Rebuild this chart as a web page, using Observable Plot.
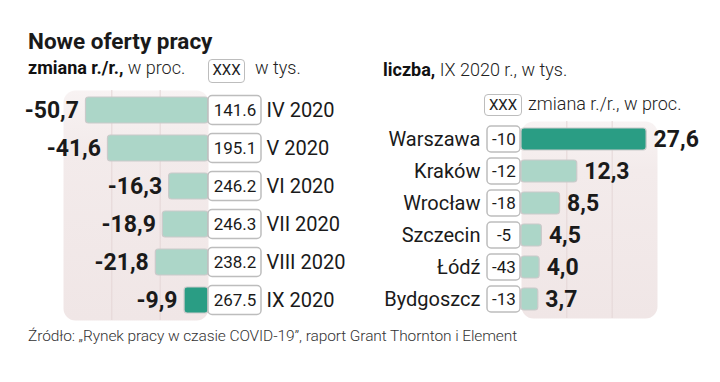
<!DOCTYPE html>
<html>
<head>
<meta charset="utf-8">
<script src="https://cdn.jsdelivr.net/npm/d3@7"></script>
<script src="https://cdn.jsdelivr.net/npm/@observablehq/plot@0.6"></script>
<style>
  body { margin: 0; background: #fff; }
  #wrap { position: relative; width: 720px; height: 382px; overflow: hidden; font-family: Roboto, "Noto Sans", sans-serif; color: #1a1a1a; }
  .abs { position: absolute; white-space: nowrap; line-height: 1; }
  .title { left: 28px; top: 30px; font-size: 22.5px; font-weight: 700; }
  .sub { font-size: 18px; font-weight: 300; color: #222; }
  .sub b { font-weight: 700; color: #111; }
  .box { border: 1.5px solid #bdbdbd; border-radius: 4px; font-size: 15px; text-align: center; box-sizing: border-box; background: #fff; line-height: 20px; color: #222; }
  .caption { left: 28px; top: 329px; font-size: 15.5px; font-weight: 300; color: #333; letter-spacing: -0.1px; }
  svg { position: absolute; overflow: visible; }
</style>
</head>
<body>
<div id="wrap">
  <div class="abs title">Nowe oferty pracy</div>
  <div class="abs sub" style="left:28px;top:59px;"><b>zmiana r./r.,</b> w proc.</div>
  <div class="abs box" style="left:208px;top:59px;width:37px;height:24px;">XXX</div>
  <div class="abs sub" style="left:255px;top:59px;">w tys.</div>
  <div class="abs sub" style="left:383px;top:61px;"><b>liczba,</b> IX 2020 r., w tys.</div>
  <div class="abs box" style="left:484px;top:94px;width:38px;height:22px;">XXX</div>
  <div class="abs sub" style="left:528px;top:95px;">zmiana r./r., w proc.</div>
  <div class="abs caption">Źródło: „Rynek pracy w czasie COVID-19”, raport Grant Thornton i Element</div>
</div>
<script>
// ---- data ----
const months = ["IV 2020", "V 2020", "VI 2020", "VII 2020", "VIII 2020", "IX 2020"];
const monthChange = [-50.7, -41.6, -16.3, -18.9, -21.8, -9.9];
const monthOffers = [141.6, 195.1, 246.2, 246.3, 238.2, 267.5];
const cities = ["Warszawa", "Kraków", "Wrocław", "Szczecin", "Łódź", "Bydgoszcz"];
const cityOffers = [27.6, 12.3, 8.5, 4.5, 4.0, 3.7];
const cityChange = [-10, -12, -18, -5, -43, -13];
const leftTicks = [-40, -20];
const rightTicks = [10, 20];

const DARK = "#2a9d84", LIGHT = "#acd6c8", GRID = "#e4d6d6";
const comma = v => v.toFixed(1).replace(".", ",");

const left = months.map((m, i) => ({m, change: monthChange[i], offers: monthOffers[i], hi: i === months.length - 1}));
const right = cities.map((c, i) => ({c, offers: cityOffers[i], change: cityChange[i], hi: i === 0}));

const wrap = document.getElementById("wrap");

function addGradient(svg, id) {
  const g = d3.select(svg).insert("defs", ":first-child")
    .append("linearGradient").attr("id", id)
    .attr("x1", 0).attr("y1", 0).attr("x2", 0).attr("y2", 1);
  g.append("stop").attr("offset", "0%").attr("stop-color", "#f8f3f3");
  g.append("stop").attr("offset", "25%").attr("stop-color", "#f3ebeb");
  g.append("stop").attr("offset", "100%").attr("stop-color", "#f0e6e6");
}

const p1 = Plot.plot({
  width: 370, height: 250,
  marginLeft: 63, marginRight: 162, marginTop: 10, marginBottom: 10,
  x: {domain: [-60, 0], axis: null},
  y: {domain: months, axis: null, paddingInner: 0.32, paddingOuter: 0.16},
  style: {fontFamily: "Roboto, sans-serif", overflow: "visible"},
  marks: [
    Plot.frame({fill: "url(#gradL)", stroke: null, rx: 12}),
    Plot.ruleX(leftTicks, {stroke: GRID, strokeWidth: 1}),
    Plot.barX(left, {x1: "change", x2: 0, y: "m", fill: d => d.hi ? DARK : LIGHT, stroke: "#cacaca", strokeWidth: 1.2, rx: 3}),
    Plot.text(left, {x: "change", y: "m", text: d => comma(d.change), textAnchor: "end", dx: -7, fontSize: 23, fontWeight: "bold", fill: "#1a1a1a"}),
    Plot.rect(left, {x1: 0, x2: 0, y: "m", insetRight: -53, insetTop: -1.5, insetBottom: -1.5, fill: "#fff", stroke: "#bdbdbd", strokeWidth: 1.5, rx: 4}),
    Plot.text(left, {x: 0, y: "m", text: d => d.offers.toFixed(1), dx: 26.5, fontSize: 17, fill: "#1a1a1a"}),
    Plot.text(left, {x: 0, y: "m", text: "m", textAnchor: "start", dx: 58, fontSize: 20, fill: "#1a1a1a"})
  ]
});
addGradient(p1, "gradL");
p1.style.left = "0px"; p1.style.top = "80px";
wrap.appendChild(p1);

const p2 = Plot.plot({
  width: 360, height: 220,
  marginLeft: 161, marginRight: 63, marginTop: 11, marginBottom: 12,
  x: {domain: [0, 30], axis: null},
  y: {domain: cities, axis: null, paddingInner: 0.3, paddingOuter: 0.135},
  style: {fontFamily: "Roboto, sans-serif", overflow: "visible"},
  marks: [
    Plot.frame({fill: "url(#gradR)", stroke: null, rx: 12}),
    Plot.ruleX(rightTicks, {stroke: GRID, strokeWidth: 1}),
    Plot.barX(right, {x1: 0, x2: "offers", y: "c", fill: d => d.hi ? DARK : LIGHT, stroke: "#cacaca", strokeWidth: 1.2, rx: 3}),
    Plot.text(right, {x: "offers", y: "c", text: d => comma(d.offers), textAnchor: "start", dx: 7, fontSize: 23, fontWeight: "bold", fill: "#1a1a1a"}),
    Plot.rect(right, {x1: 0, x2: 0, y: "c", insetLeft: -34, insetRight: 1, insetTop: -2, insetBottom: -2, fill: "#fff", stroke: "#bdbdbd", strokeWidth: 1.5, rx: 4}),
    Plot.text(right, {x: 0, y: "c", text: d => String(d.change), dx: -17.5, fontSize: 17, fill: "#1a1a1a"}),
    Plot.text(right, {x: 0, y: "c", text: "c", textAnchor: "end", dx: -41, fontSize: 20, fill: "#1a1a1a"})
  ]
});
addGradient(p2, "gradR");
p2.style.left = "360px"; p2.style.top = "110px";
wrap.appendChild(p2);
</script>
</body>
</html>
